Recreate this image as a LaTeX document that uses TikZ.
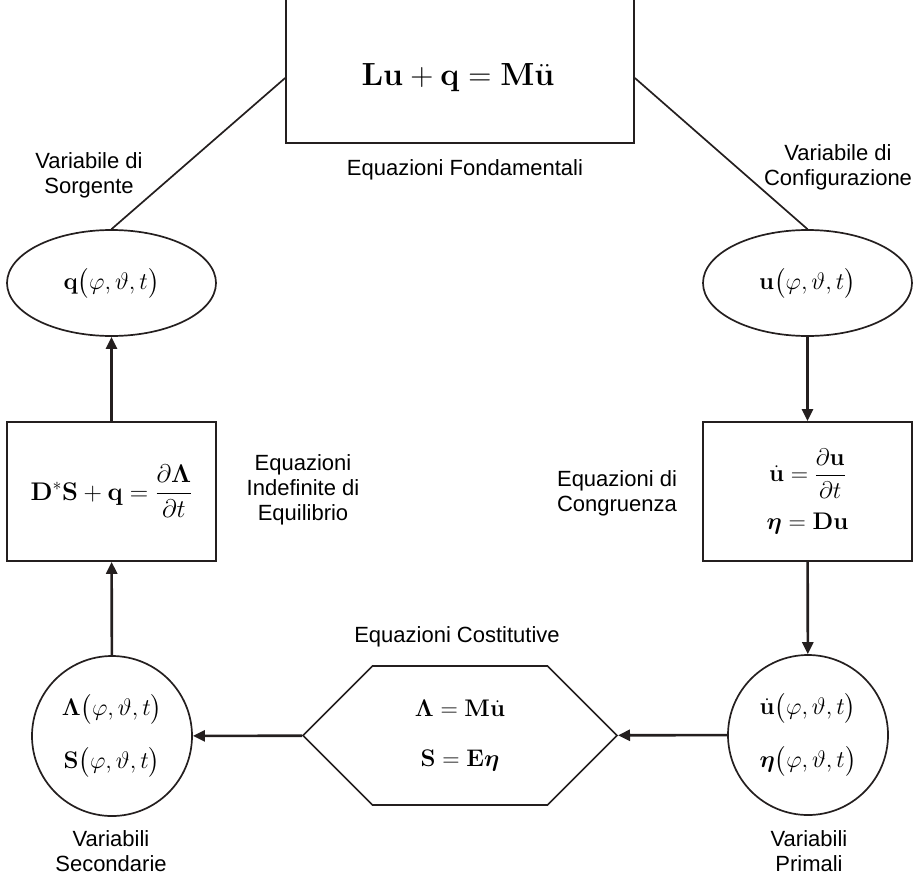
\RequirePackage{fix-cm}
\documentclass[tikz,border=0pt]{standalone}
\usepackage{amsmath}
\usepackage[no-math]{fontspec}
\setmainfont{Liberation Sans}
\usetikzlibrary{arrows.meta,shapes.geometric,shapes.symbols}
\definecolor{myblack}{rgb}{0.14,0.12,0.12}
\newcommand{\fvt}{\bigl(\varphi,\vartheta,t\bigr)}
\newcommand{\bu}{\mathbf{u}}

\begin{document}
\begin{tikzpicture}[x=1pt,y=-1pt,
link/.style={myblack, line width=1.7pt},
flow/.style={myblack, line width=2.6pt, -{Triangle[length=12pt,width=11pt]}},
eqbox/.style={link, draw, rectangle, minimum width=209pt, minimum height=139pt,
  inner sep=0pt, text=black, align=center, font=\fontsize{24}{28}\selectfont},
oval/.style={eqbox, ellipse, minimum height=106pt},
varcircle/.style={eqbox, circle, minimum size=160pt},
hexa/.style={eqbox, signal, signal to=west and east, signal pointer angle=90,
  minimum width=314pt},
lbl/.style={align=center, font=\fontsize{22}{25}\selectfont}]
\useasboundingbox (0,0) rectangle (923,878);
\clip (0,0) rectangle (923,878);

% equazioni fondamentali
\node[link, draw, minimum width=348pt, minimum height=220pt] (fund) at (460,33) {};
\node[font=\fontsize{32}{36}\selectfont] (lagr) at (458,78)
  {$\mathbf{Lu}+\mathbf{q}=\mathbf{M}\ddot{\bu}$};
\node[lbl] (fundlbl) at (465,170) {Equazioni Fondamentali};

% variabili di sorgente e di configurazione
\node[oval] (qvar) at (111.5,283) {$\mathbf{q}\fvt$};
\node[oval] (uvar) at (807.5,283) {$\bu\fvt$};
\node[lbl] at (89,175) {Variabile di\\Sorgente};
\node[lbl] at (838,167) {Variabile di\\Configurazione};

% equilibrio e congruenza
\node[eqbox, font=\fontsize{25.5}{30}\selectfont] (equil) at (111.5,491.5)
  {$\mathbf{D}^{*}\mathbf{S}+\mathbf{q}=\dfrac{\partial\boldsymbol{\Lambda}}{\partial t}$};
\node[eqbox] (congr) at (807.5,491.5)
  {$\dot{\bu}=\dfrac{\partial\bu}{\partial t}$\\[14pt]
   $\boldsymbol{\eta}=\mathbf{D}\bu$};
\node[lbl] at (303,490) {Equazioni\\Indefinite di\\Equilibrio};
\node[lbl] at (617,493) {Equazioni di\\Congruenza};

% variabili secondarie, primali e legame costitutivo
\node[varcircle] (second) at (112,736)
  {$\boldsymbol{\Lambda}\fvt$\\[22pt]$\mathbf{S}\fvt$};
\node[varcircle] (primal) at (808,735)
  {$\dot{\bu}\fvt$\\[22pt]$\boldsymbol{\eta}\fvt$};
\node[hexa] (const) at (460,735.5)
  {$\boldsymbol{\Lambda}=\mathbf{M}\dot{\bu}$\\[22pt]$\mathbf{S}=\mathbf{E}\boldsymbol{\eta}$};
\node[lbl] at (457,637) {Equazioni Costitutive};
\node[lbl] at (111,851) {Variabili\\Secondarie};
\node[lbl] at (809,851) {Variabili\\Primali};

\draw[link] (fund.west |- lagr) -- (qvar.north);
\draw[link] (fund.east |- lagr) -- (uvar.north);
\draw[flow] (uvar) -- (congr);
\draw[flow] (congr) -- (primal);
\draw[flow] (primal) -- (const);
\draw[flow] (const) -- (second);
\draw[flow] (second) -- (equil);
\draw[flow] (equil) -- (qvar);
\end{tikzpicture}
\end{document}
